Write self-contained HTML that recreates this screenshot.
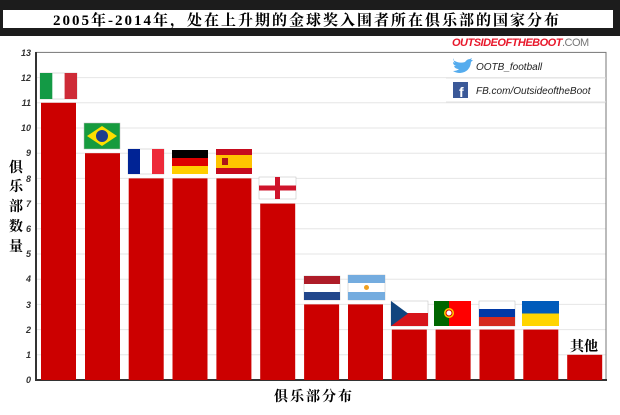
<!DOCTYPE html>
<html><head><meta charset="utf-8"><style>
body{margin:0;width:620px;height:410px;background:#fff;overflow:hidden;font-family:"Liberation Sans","Noto Sans CJK SC",sans-serif}
</style></head><body>
<svg width="620" height="410" xmlns="http://www.w3.org/2000/svg" font-family="Liberation Sans, Noto Sans CJK SC, sans-serif">
<rect x="0" y="0" width="620" height="36" fill="#1c1c1c"/>
<rect x="3" y="10" width="610" height="18" fill="#fff"/>
<text x="307" y="25" text-anchor="middle" font-size="15" font-family="Liberation Serif, Noto Serif CJK SC, serif" font-weight="bold" fill="#000" letter-spacing="2">2005年-2014年，处在上升期的金球奖入围者所在俱乐部的国家分布</text>
<g stroke="#e6e6e6" stroke-width="1">
<line x1="36" x2="606" y1="354.8" y2="354.8"/><line x1="36" x2="606" y1="329.6" y2="329.6"/><line x1="36" x2="606" y1="304.4" y2="304.4"/><line x1="36" x2="606" y1="279.2" y2="279.2"/><line x1="36" x2="606" y1="254" y2="254"/><line x1="36" x2="606" y1="228.8" y2="228.8"/><line x1="36" x2="606" y1="203.6" y2="203.6"/><line x1="36" x2="606" y1="178.4" y2="178.4"/><line x1="36" x2="606" y1="153.2" y2="153.2"/><line x1="36" x2="606" y1="128" y2="128"/><line x1="36" x2="606" y1="102.8" y2="102.8"/><line x1="36" x2="606" y1="77.6" y2="77.6"/>
</g>
<rect x="36" y="52.4" width="570" height="327.6" fill="none" stroke="#777" stroke-width="1"/>
<line x1="36" y1="52" x2="36" y2="380" stroke="#333" stroke-width="2"/>
<line x1="35" y1="380" x2="607" y2="380" stroke="#333" stroke-width="2"/>
<g font-size="9" font-style="italic" font-weight="bold" fill="#333" text-anchor="end">
<text x="31" y="383">0</text><text x="31" y="358">1</text><text x="31" y="333">2</text><text x="31" y="308">3</text><text x="31" y="282">4</text><text x="31" y="257">5</text><text x="31" y="232">6</text><text x="31" y="207">7</text><text x="31" y="182">8</text><text x="31" y="156">9</text><text x="31" y="131">10</text><text x="31" y="106">11</text><text x="31" y="81">12</text><text x="31" y="56">13</text>
</g>
<g fill="#cc0000">
<rect x="41" y="102.8" width="35" height="277.2"/>
<rect x="85" y="153.2" width="35" height="226.8"/>
<rect x="128.7" y="178.4" width="35" height="201.6"/>
<rect x="172.5" y="178.4" width="35" height="201.6"/>
<rect x="216.4" y="178.4" width="35" height="201.6"/>
<rect x="260.2" y="203.6" width="35" height="176.4"/>
<rect x="304.1" y="304.4" width="35" height="75.6"/>
<rect x="348" y="304.4" width="35" height="75.6"/>
<rect x="391.8" y="329.6" width="35" height="50.4"/>
<rect x="435.6" y="329.6" width="35" height="50.4"/>
<rect x="479.5" y="329.6" width="35" height="50.4"/>
<rect x="523.3" y="329.6" width="35" height="50.4"/>
<rect x="567.2" y="354.8" width="35" height="25.2"/>
</g>
<g stroke="#bbb" stroke-width="0.5">
<rect x="40" y="73" width="37" height="26" fill="#fff"/>
<rect x="84" y="123" width="36" height="26" fill="#169b3e"/>
<rect x="128" y="149" width="36" height="25" fill="#fff"/>
<rect x="259" y="177" width="37" height="22" fill="#fff"/>
<rect x="304" y="276" width="36" height="24" fill="#fff"/>
<rect x="348" y="275" width="37" height="25" fill="#fff"/>
<rect x="391" y="301" width="37" height="25" fill="#fff"/>
<rect x="479" y="301" width="36" height="25" fill="#fff"/>
</g>
<g>
<rect x="40" y="73" width="12.3" height="26" fill="#139a45"/><rect x="64.6" y="73" width="12.4" height="26" fill="#ce2b37"/>
<polygon points="102,126 117,136 102,146 87,136" fill="#fedf00"/><circle cx="102" cy="136" r="6" fill="#1f3d8c"/>
<rect x="128" y="149" width="12" height="25" fill="#002395"/><rect x="152" y="149" width="12" height="25" fill="#ed2939"/>
<rect x="172" y="150" width="36" height="8" fill="#000"/><rect x="172" y="158" width="36" height="8" fill="#dd0000"/><rect x="172" y="166" width="36" height="8" fill="#ffce00"/>
<rect x="216" y="149" width="36" height="25" fill="#c60b1e"/><rect x="216" y="155" width="36" height="13" fill="#ffc400"/><rect x="222" y="158" width="6" height="7" fill="#ad1519"/>
<rect x="275" y="177" width="5" height="22" fill="#cf142b"/><rect x="259" y="185.5" width="37" height="5" fill="#cf142b"/>
<rect x="304" y="276" width="36" height="8" fill="#ae1c28"/><rect x="304" y="292" width="36" height="8" fill="#21468b"/>
<rect x="348" y="275" width="37" height="8" fill="#74acdf"/><rect x="348" y="292" width="37" height="8" fill="#74acdf"/><circle cx="366.5" cy="287.5" r="2.5" fill="#f0a020"/>
<rect x="391" y="313" width="37" height="13" fill="#d7141a"/><polygon points="391,301 408,313.5 391,326" fill="#11457e"/>
<rect x="434" y="301" width="15" height="25" fill="#006600"/><rect x="449" y="301" width="22" height="25" fill="#ff0000"/><circle cx="449" cy="313" r="5" fill="#ffcc00"/><circle cx="449" cy="313" r="3" fill="#fff" stroke="#d00" stroke-width="1"/>
<rect x="479" y="309" width="36" height="8" fill="#0039a6"/><rect x="479" y="317" width="36" height="9" fill="#d52b1e"/>
<rect x="522" y="301" width="37" height="12.5" fill="#005bbb"/><rect x="522" y="313.5" width="37" height="12.5" fill="#ffd500"/>
</g>
<text x="584" y="351" text-anchor="middle" font-size="14" font-weight="bold" fill="#000" font-family="Liberation Serif, Noto Serif CJK SC, serif">其他</text>
<g font-size="14" font-weight="bold" fill="#000" text-anchor="middle" font-family="Liberation Serif, Noto Serif CJK SC, serif">
<text x="16" y="172">俱</text><text x="16" y="191">乐</text><text x="16" y="211">部</text><text x="16" y="231">数</text><text x="16" y="251">量</text>
</g>
<text x="314" y="401" text-anchor="middle" font-size="14" font-weight="bold" fill="#000" letter-spacing="2" font-family="Liberation Serif, Noto Serif CJK SC, serif">俱乐部分布</text>
<text x="452" y="46" font-size="11" font-weight="bold" font-style="italic" fill="#e8192c" letter-spacing="-0.5">OUTSIDEOFTHEBOOT<tspan fill="#777" font-style="normal" font-weight="normal">.COM</tspan></text>
<line x1="446" y1="78" x2="606" y2="78" stroke="#e0e0e0"/>
<line x1="446" y1="102" x2="606" y2="102" stroke="#e0e0e0"/>
<path d="M453 60 q6 4 12 2 q2 -3 5 -3 l2 -1 l-1 2 l2 0 l-2 2 q-1 10 -11 11 q-4 0 -7 -2 q4 0 6 -2 q-4 0 -5 -3 l2 0 q-3 -1 -3 -4 l2 1 q-2 -2 -1 -5z" fill="#55acee"/>
<text x="476" y="70" font-size="10" font-style="italic" fill="#222">OOTB_football</text>
<rect x="453" y="82" width="15" height="16" fill="#3b5998"/>
<text x="459" y="97" font-size="14" font-weight="bold" fill="#fff">f</text>
<text x="476" y="94" font-size="10" font-style="italic" fill="#222">FB.com/OutsideoftheBoot</text>
</svg>
</body></html>
